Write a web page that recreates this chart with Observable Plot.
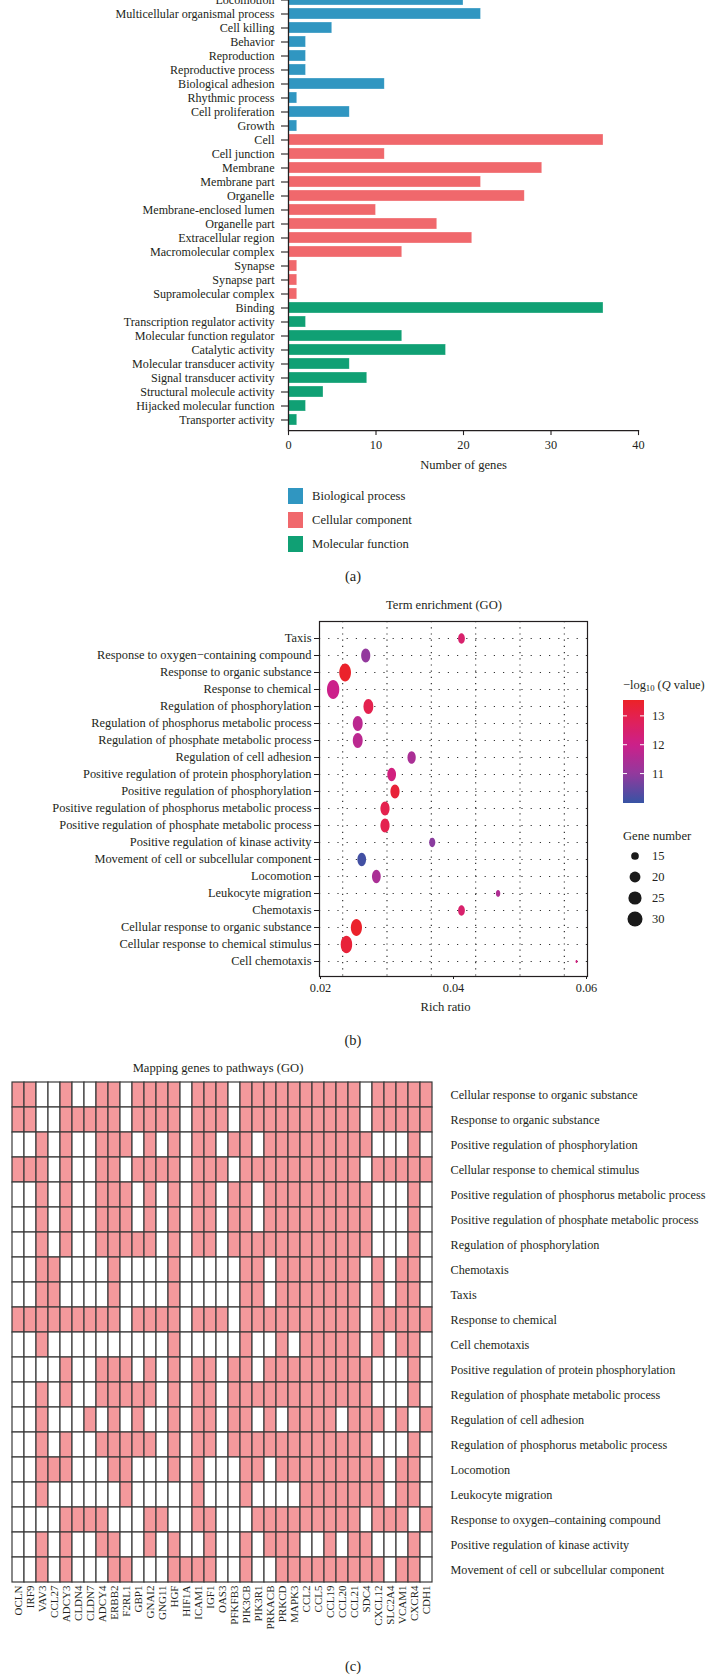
<!DOCTYPE html>
<html><head><meta charset="utf-8">
<script src="https://cdn.jsdelivr.net/npm/d3@7"></script>
<script src="https://cdn.jsdelivr.net/npm/@observablehq/plot@0.6"></script>
<style>
body{margin:0;background:#fff;}
#page{position:relative;width:711px;height:1680px;overflow:hidden;font-family:"Liberation Serif","DejaVu Serif",serif;color:#231f20;}
.abs{position:absolute;white-space:nowrap;line-height:1;}
sub{font-size:70%;vertical-align:-0.25em;line-height:0;}
</style></head><body><div id="page"></div>
<script>
// ---------------- Panel (a) data ----------------
const goTerms = ["Locomotion","Multicellular organismal process","Cell killing","Behavior","Reproduction","Reproductive process","Biological adhesion","Rhythmic process","Cell proliferation","Growth","Cell","Cell junction","Membrane","Membrane part","Organelle","Membrane-enclosed lumen","Organelle part","Extracellular region","Macromolecular complex","Synapse","Synapse part","Supramolecular complex","Binding","Transcription regulator activity","Molecular function regulator","Catalytic activity","Molecular transducer activity","Signal transducer activity","Structural molecule activity","Hijacked molecular function","Transporter activity"];
const goCounts = [20,22,5,2,2,2,11,1,7,1,36,11,29,22,27,10,17,21,13,1,1,1,36,2,13,18,7,9,4,2,1];
const goClass = [0,0,0,0,0,0,0,0,0,0,1,1,1,1,1,1,1,1,1,1,1,1,2,2,2,2,2,2,2,2,2];
const classNames = ["Biological process","Cellular component","Molecular function"];
const classColors = ["#3096c1","#f0686c","#10a074"];
const countTicks = [0,10,20,30,40];

// ---------------- Panel (b) data ----------------
const enrichTerms = ["Taxis","Response to oxygen\u2212containing compound","Response to organic substance","Response to chemical","Regulation of phosphorylation","Regulation of phosphorus metabolic process","Regulation of phosphate metabolic process","Regulation of cell adhesion","Positive regulation of protein phosphorylation","Positive regulation of phosphorylation","Positive regulation of phosphorus metabolic process","Positive regulation of phosphate metabolic process","Positive regulation of kinase activity","Movement of cell or subcellular component","Locomotion","Leukocyte migration","Chemotaxis","Cellular response to organic substance","Cellular response to chemical stimulus","Cell chemotaxis"];
const richRatio = [0.0412,0.0268,0.0237,0.0219,0.0272,0.0256,0.0256,0.0337,0.0307,0.0312,0.0297,0.0297,0.0368,0.0262,0.0284,0.0467,0.0412,0.0254,0.0239,0.0585];
const qValue = [12.5,11.0,13.5,12.0,13.0,11.7,11.7,11.4,12.2,13.3,13.0,13.0,10.9,10.1,11.4,11.5,12.5,13.5,13.3,12.2];
const geneNumber = [16,21,29,31,23,23,23,19,20,21,21,21,15,20,20,13,16,27,28,12];
const richTicks = [0.02,0.04,0.06];
const richGrid = [0.02333,0.03,0.03667,0.04333,0.05,0.05667];
const qTicks = [11,12,13];
const qStops = [10,11,12,13,13.55];
const qColors = ["#3953a4","#93399d","#cc208a","#e4214e","#ec2227"];
const sizeTicks = [15,20,25,30];

// ---------------- Panel (c) data ----------------
const genes = ["OCLN","IRF9","VAV3","CCL27","ADCY3","CLDN4","CLDN7","ADCY4","ERBB2","F2RL1","GBP1","GNAI2","GNG11","HGF","HIF1A","ICAM1","IGF1","OAS3","PFKFB3","PIK3CB","PIK3R1","PRKACB","PRKCD","MAPK3","CCL2","CCL5","CCL19","CCL20","CCL21","SDC4","CXCL12","SLC2A4","VCAM1","CXCR4","CDH1"];
const pathways = ["Cellular response to organic substance","Response to organic substance","Positive regulation of phosphorylation","Cellular response to chemical stimulus","Positive regulation of phosphorus metabolic process","Positive regulation of phosphate metabolic process","Regulation of phosphorylation","Chemotaxis","Taxis","Response to chemical","Cell chemotaxis","Positive regulation of protein phosphorylation","Regulation of phosphate metabolic process","Regulation of cell adhesion","Regulation of phosphorus metabolic process","Locomotion","Leukocyte migration","Response to oxygen\u2013containing compound","Positive regulation of kinase activity","Movement of cell or subcellular component"];
const membership = [
  "11001001101111011101111111"+"111011111",
  "11001111101111011101111111"+"111011111",
  "00101001110101011011011111"+"111100010",
  "11101001101111011101111111"+"111011111",
  "00101001110101011011011111"+"111100010",
  "00101001110101011011011111"+"111100010",
  "00101001111101011011111111"+"111100010",
  "00110000100001000001101111"+"111010110",
  "00110000100001000001101111"+"111010110",
  "11111111101111011101111111"+"111011111",
  "00100000000001000001001011"+"111010110",
  "00001001110101011011011111"+"111100010",
  "00101001111101011011111111"+"111100010",
  "00100010101001011011010111"+"101110101",
  "00101001111101011011111111"+"111100010",
  "00111000110001010001101111"+"111110110",
  "00100000010000010001000011"+"111110110",
  "00001111000110011000111111"+"111011101",
  "00101001100101001001011100"+"101100010",
  "00101000110001111001001111"+"111110110"
];

// ---------------- helpers ----------------
const FONT = "'Liberation Serif','DejaVu Serif',serif";
const INK = "#231f20";
const page = document.getElementById("page");
function put(node, left, top){const d=document.createElement("div");d.className="abs";d.style.left=left+"px";d.style.top=top+"px";d.appendChild(node);page.appendChild(d);return d;}
function label(html,x,y,size,anchor){const d=document.createElement("div");d.className="abs";d.innerHTML=html;d.style.left=x+"px";d.style.top=y+"px";d.style.fontSize=size+"px";d.style.transform=anchor==="start"?"translate(0,-50%)":"translate(-50%,-50%)";page.appendChild(d);return d;}

// ---------------- Panel (a) ----------------
const barData = goTerms.map((t,i)=>({term:t,count:goCounts[i],cls:classNames[goClass[i]]}));
const A_SVG_TOP = -24;
const plotA = Plot.plot({
  width:711, height:508, marginLeft:288, marginRight:73, marginTop:13.9, marginBottom:53.9,
  style:{fontFamily:FONT,fontSize:"12.1px",color:INK,background:"transparent"},
  x:{domain:[0,40]},
  y:{domain:goTerms,paddingInner:0.2,paddingOuter:0.1},
  color:{domain:classNames,range:classColors},
  marks:[
    Plot.barX(barData,{y:"term",x:"count",fill:"cls",stroke:"#ffffff",strokeOpacity:0.5,strokeWidth:0.6}),
    Plot.ruleX([0],{stroke:INK,strokeWidth:1.3}),
    Plot.frame({anchor:"bottom",stroke:INK,strokeWidth:1.3}),
    Plot.axisY({tickSize:7,tickPadding:7,label:null,strokeWidth:1.1}),
    Plot.axisX({ticks:countTicks,tickSize:5,tickPadding:5,label:null,strokeWidth:1.1,fontSize:12.3}),
    Plot.text(["Number of genes"],{text:d=>d,frameAnchor:"bottom",dy:38,fontSize:12.6})
  ]
});
put(plotA,0,A_SVG_TOP);
classNames.forEach((c,i)=>{
  const sw=document.createElement("div");sw.style.width="15px";sw.style.height="16px";sw.style.background=classColors[i];
  put(sw,288,496+24*i-8);
  label(c,312,496+24*i,12.6,"start");
});
label("(a)",353,576,14.5);

// ---------------- Panel (b) ----------------
const ellipse = {draw(ctx,size){const r=Math.sqrt(size/Math.PI),rx=r*0.8,ry=r*1.22,k=0.5523;
  ctx.moveTo(rx,0);ctx.bezierCurveTo(rx,ry*k,rx*k,ry,0,ry);ctx.bezierCurveTo(-rx*k,ry,-rx,ry*k,-rx,0);
  ctx.bezierCurveTo(-rx,-ry*k,-rx*k,-ry,0,-ry);ctx.bezierCurveTo(rx*k,-ry,rx,-ry*k,rx,0);ctx.closePath();}};
const N_MIN=12,N_MAX=31,R_MIN=1.3,R_MAX=7.7;
const dotData = enrichTerms.map((t,i)=>({term:t,rich:richRatio[i],q:qValue[i],n:geneNumber[i]}));
const B_SVG_TOP = 610;
const plotB = Plot.plot({
  width:711, height:416, marginLeft:319, marginRight:124, marginTop:11, marginBottom:50,
  insetTop:12, insetBottom:11, insetLeft:1, insetRight:1,
  style:{fontFamily:FONT,fontSize:"12.4px",color:INK,background:"transparent"},
  x:{domain:[0.02,0.06]},
  y:{type:"point",domain:enrichTerms,padding:0},
  r:{type:"sqrt",transform:n=>n-N_MIN,domain:[0,N_MAX-N_MIN],range:[R_MIN,R_MAX]},
  color:{type:"linear",domain:qStops,range:qColors},
  marks:[
    Plot.gridY({stroke:"#333",strokeOpacity:1,strokeWidth:1.2,strokeDasharray:"1.2,8"}),
    Plot.gridX(richGrid,{stroke:"#333",strokeOpacity:1,strokeWidth:1.2,strokeDasharray:"1.2,5"}),
    Plot.frame({stroke:INK,strokeWidth:1.2}),
    Plot.dot(dotData,{x:"rich",y:"term",r:"n",fill:"q",symbol:ellipse}),
    Plot.axisY({tickSize:5,tickPadding:3,label:null}),
    Plot.axisX({ticks:richTicks,tickFormat:d3.format(".2f"),tickSize:3,tickPadding:4,label:null,fontSize:12.3}),
    Plot.text(["Rich ratio"],{text:d=>d,frameAnchor:"bottom",dy:34,dx:-8,fontSize:12.6})
  ]
});
put(plotB,0,B_SVG_TOP);
label("Term enrichment (GO)",444,605,12.6);
label("(b)",353,1040,14.5);

// colour bar legend
const LEG_X = 623;
const qScale = d3.scaleLinear().domain(qStops).range(qColors);
const cbTop=700, cbH=103, cbW=21;
const cbY = d3.scaleLinear().domain([9.98,13.55]).range([cbH,0]);
const cb = d3.create("svg").attr("width",60).attr("height",cbH+4).style("overflow","visible");
const grad = cb.append("defs").append("linearGradient").attr("id","qgrad").attr("x1",0).attr("x2",0).attr("y1",1).attr("y2",0);
d3.range(0,1.0001,0.05).forEach(t=>{const v=9.98+t*(13.55-9.98);grad.append("stop").attr("offset",t).attr("stop-color",qScale(v));});
cb.append("rect").attr("x",0).attr("y",0).attr("width",cbW).attr("height",cbH).attr("fill","url(#qgrad)");
qTicks.forEach(v=>{
  cb.append("line").attr("x1",0).attr("x2",4).attr("y1",cbY(v)).attr("y2",cbY(v)).attr("stroke","#fff").attr("stroke-width",1);
  cb.append("line").attr("x1",cbW-4).attr("x2",cbW).attr("y1",cbY(v)).attr("y2",cbY(v)).attr("stroke","#fff").attr("stroke-width",1);
  cb.append("text").attr("x",29).attr("y",cbY(v)).attr("dy","0.35em").attr("font-family",FONT).attr("font-size",12.5).attr("fill",INK).text(v);
});
put(cb.node(),LEG_X,cbTop);
label("\u2212log<sub>10</sub> (<i>Q</i> value)",LEG_X,685,12.4,"start");

// gene number legend
label("Gene number",LEG_X,836,12.6,"start");
const rFn = n=>R_MIN+(R_MAX-R_MIN)*Math.sqrt((n-N_MIN)/(N_MAX-N_MIN));
const gl = d3.create("svg").attr("width",60).attr("height",90);
sizeTicks.forEach((n,i)=>{
  const cy = 8+21*i;
  gl.append("circle").attr("cx",12).attr("cy",cy).attr("r",rFn(n)).attr("fill","#1a1a1a");
  gl.append("text").attr("x",29).attr("y",cy).attr("dy","0.35em").attr("font-family",FONT).attr("font-size",12.5).attr("fill",INK).text(n);
});
put(gl.node(),LEG_X,848);

// ---------------- Panel (c) ----------------
const cellData = pathways.flatMap((p,i)=>genes.map((g,j)=>({path:p,gene:g,v:+membership[i][j]})));
const plotC = Plot.plot({
  width:711, height:562, marginLeft:1, marginRight:269, marginTop:2, marginBottom:60,
  style:{fontFamily:FONT,fontSize:"12.2px",color:INK,background:"transparent"},
  x:{domain:genes,padding:0},
  y:{domain:pathways,padding:0},
  color:{type:"ordinal",domain:[0,1],range:["#ffffff","#f4999c"]},
  marks:[
    Plot.cell(cellData,{x:"gene",y:"path",fill:"v",stroke:"#3a3a3a",strokeWidth:1.2}),
    Plot.axisY({anchor:"right",tickSize:0,tickPadding:8,label:null}),
    Plot.axisX({anchor:"bottom",tickSize:0,tickPadding:3,tickRotate:-90,label:null,fontSize:11})
  ]
});
put(plotC,0,1080);
label("Mapping genes to pathways (GO)",218,1068,12.6);
label("(c)",353,1666,14.5);
</script>
</body></html>
